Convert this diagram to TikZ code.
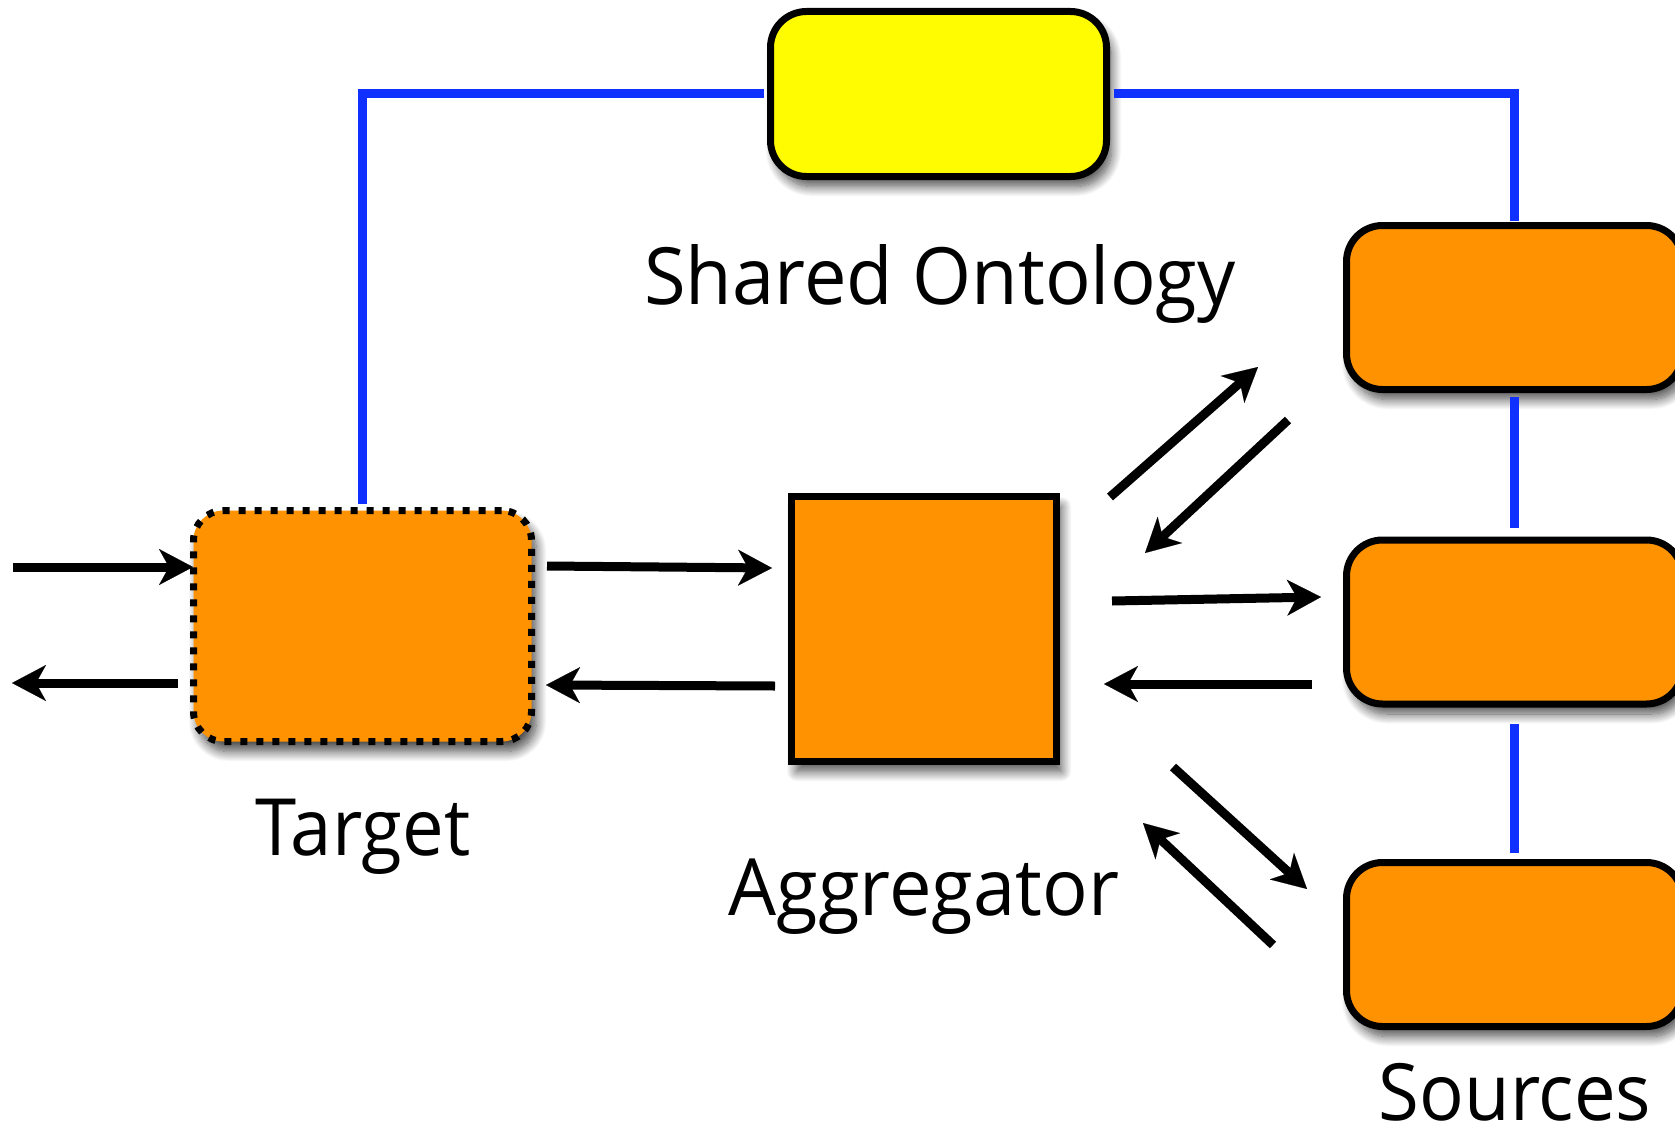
\documentclass[tikz,border=0pt]{standalone}
\usepackage{fontspec}
\setmainfont{Open Sans}
\usepackage{graphicx}
\usetikzlibrary{arrows.meta,shadows.blur}
\definecolor{boxorange}{RGB}{255,146,0}
\definecolor{ontoyellow}{RGB}{255,251,0}
\definecolor{linkblue}{RGB}{16,48,255}
\begin{document}
\begin{tikzpicture}[x=1pt,y=-1pt,
  shadowed/.style={blur shadow={shadow xshift=5pt,shadow yshift=-10pt,shadow blur radius=10pt,shadow blur steps=14,shadow opacity=70}},
  srcbox/.style={draw=black,line width=7pt,fill=boxorange,rounded corners=36pt,
    minimum width=336pt,minimum height=164pt,inner sep=0pt,shadowed},
  ontobox/.style={srcbox,fill=ontoyellow,minimum height=165pt},
  targetbox/.style={draw=black,line width=7pt,dash pattern=on 7pt off 9pt,fill=boxorange,
    rounded corners=30pt,minimum width=338pt,minimum height=231pt,inner sep=0pt,shadowed},
  aggbox/.style={draw=black,line width=7pt,fill=boxorange,minimum width=265pt,
    minimum height=265pt,inner sep=0pt,shadowed},
  link/.style={draw=linkblue,line width=9pt},
  arr/.style={draw=black,line width=9pt,
    -{Stealth[length=34pt,width=36pt,inset=10pt,line width=0.1pt]}},
  lbl/.style={anchor=base,inner sep=0pt,font=\fontsize{79}{90}\selectfont}
]
\useasboundingbox (0,0) rectangle (1675,1129);

% boxes
\node[ontobox] (onto) at (938.5,94) {};
\node[targetbox] (target) at (362.5,626) {};
\node[aggbox] (agg) at (924,629) {};
\node[srcbox] (src1) at (1514.5,307.5) {};
\node[srcbox] (src2) at (1514.5,622) {};
\node[srcbox] (src3) at (1514.5,944.5) {};

% blue links
\draw[link,shorten <=3pt,shorten >=3.5pt] (target.north) |- (onto.west);
\draw[link,shorten <=3.5pt,shorten >=1pt] (onto.east) -| (src1.north);
\draw[link,shorten <=4pt,shorten >=9pt] (src1.south) -- (src2.north);
\draw[link,shorten <=16pt,shorten >=6pt] (src2.south) -- (src3.north);

% labels
\node[lbl] (lonto) at (940,304) {\scalebox{0.96}[1]{Shared Ontology}};
\node[lbl] (ltarget) at (363,855) {\scalebox{0.94}[1]{Target}};
\node[lbl] (lagg) at (924,915) {\scalebox{0.96}[1]{Aggregator}};
\node[lbl] (lsrc) at (1515,1120) {\raisebox{0pt}[\height][0pt]{\scalebox{0.94}[1]{Sources}}};

% arrow end points
\coordinate (inA) at (13,567);   \coordinate (inB) at (193,567);
\coordinate (outA) at (178,683); \coordinate (outB) at (12,683);
\coordinate (taA) at (547,566);  \coordinate (taB) at (772,568);
\coordinate (atA) at (775,686);  \coordinate (atB) at (546,685);
\coordinate (u1A) at (1110,497); \coordinate (u1B) at (1258,367);
\coordinate (d1A) at (1288,420); \coordinate (d1B) at (1145,553);
\coordinate (m1A) at (1112,601); \coordinate (m1B) at (1321,597);
\coordinate (m2A) at (1312,684); \coordinate (m2B) at (1104,684);
\coordinate (b1A) at (1173,767); \coordinate (b1B) at (1307,889);
\coordinate (b2A) at (1273,945); \coordinate (b2B) at (1143,823);

\draw[arr] (inA) -- (inB);
\draw[arr] (outA) -- (outB);
\draw[arr] (taA) -- (taB);
\draw[arr] (atA) -- (atB);
\draw[arr] (u1A) -- (u1B);
\draw[arr] (d1A) -- (d1B);
\draw[arr] (m1A) -- (m1B);
\draw[arr] (m2A) -- (m2B);
\draw[arr] (b1A) -- (b1B);
\draw[arr] (b2A) -- (b2B);
\end{tikzpicture}
\end{document}
